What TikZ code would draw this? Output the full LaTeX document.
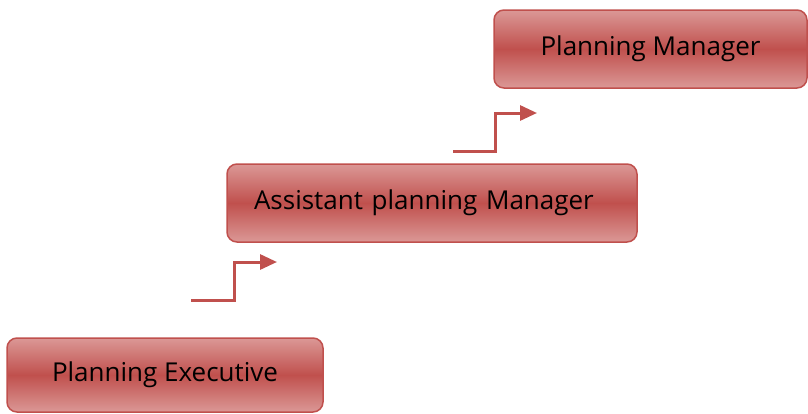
\documentclass[tikz,border=0pt]{standalone}
\usepackage{fontspec}
\setmainfont{Open Sans}
\usepackage{xcolor}
\usetikzlibrary{arrows.meta}
\definecolor{boxred}{RGB}{192,80,77}
\definecolor{boxpink}{RGB}{219,152,150}

\begin{document}
\begin{tikzpicture}[x=1pt, y=-1pt,
		level/.style={draw=boxred, line width=1.5pt, rounded corners=10pt,
			top color=boxpink, bottom color=boxpink, middle color=boxred,
			font=\fontsize{26}{30}\selectfont, inner sep=0pt},
		stair/.style={draw=boxred, line width=3pt, line join=miter,
			-{Triangle[length=17pt,width=15pt]}}]
	\useasboundingbox (0,0) rectangle (808,413);
	\node[level, minimum width=316pt, minimum height=74pt] (exec) at (165,375) {Planning Executive};
	\node[level, minimum width=410pt, minimum height=78pt, text width=356pt, inner xsep=27pt, align=left] (asst) at (432,203) {Assistant planning Manager};
	\node[level, minimum width=313pt, minimum height=78pt] (mgr) at (650.5,49) {Planning Manager};
	\coordinate (a1) at (191,300);
	\coordinate (b1) at (234,262);
	\coordinate (c1) at (277,262);
	\coordinate (a2) at (453,151);
	\coordinate (b2) at (495,113);
	\coordinate (c2) at (537,113);
	\draw[stair] (a1) -| (b1) -- (c1);
	\draw[stair] (a2) -| (b2) -- (c2);
\end{tikzpicture}
\end{document}
